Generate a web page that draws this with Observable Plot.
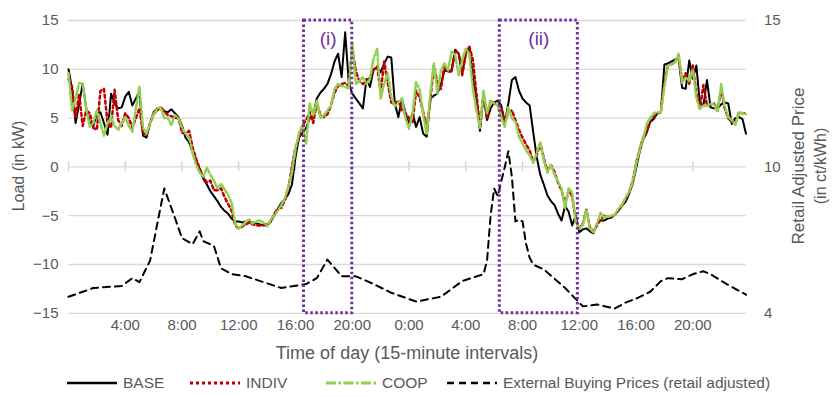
<!DOCTYPE html>
<html><head><meta charset="utf-8">
<script src="https://cdn.jsdelivr.net/npm/d3@7"></script>
<script src="https://cdn.jsdelivr.net/npm/@observablehq/plot@0.6"></script>
<style>
body{margin:0;background:#fff;}
#wrap{position:relative;width:834px;height:397px;font-family:"Liberation Sans",Arial,sans-serif;color:#595959;}
#legend{position:absolute;left:0;top:372px;width:834px;height:22px;}
.li{position:absolute;top:0;height:22px;display:flex;align-items:center;font-size:15.5px;white-space:nowrap;}
</style></head><body><div id="wrap"><div id="legend"></div></div>
<script>
// ---- data (load in kW, 15-minute intervals over 48 h) ----
const base = [10.0, 8.0, 4.5, 6.5, 8.5, 6.0, 4.5, 4.2, 5.5, 5.6, 4.5, 3.3, 7.5, 6.5, 6.0, 6.1, 7.2, 7.7, 6.3, 7.0, 7.7, 3.2, 3.0, 4.5, 5.6, 6.0, 6.1, 5.7,
 5.6, 5.9, 5.5, 5.1, 4.2, 3.0, 2.5, 1.5, 0.6, -0.2, -1.2, -1.8, -2.5, -3.0, -3.5, -4.1, -4.5, -4.8, -5.3, -5.6, -5.6, -5.7, -5.6, -5.6, -5.7, -5.8, -5.9, -6.0,
 -6.0, -5.6, -5.0, -4.3, -3.7, -3.3, -2.8, -1.8, 1.0, 3.0, 3.5, 4.0, 5.0, 5.3, 7.0, 7.6, 8.0, 8.5, 9.5, 10.8, 11.6, 9.2, 13.8, 8.7, 7.5, 7.0, 6.5, 6.0,
 9.0, 8.2, 10.0, 10.2, 9.7, 10.6, 11.3, 11.2, 6.5, 5.1, 7.0, 5.5, 4.4, 5.5, 4.1, 5.1, 3.4, 3.1, 7.0, 7.3, 7.5, 8.5, 9.9, 9.8, 9.9, 12.0, 11.6, 9.6,
 11.6, 12.3, 9.2, 7.0, 3.7, 7.5, 4.8, 6.0, 6.6, 6.8, 6.3, 4.5, 6.5, 8.9, 9.2, 7.8, 7.0, 6.6, 6.3, 3.6, 1.0, -0.8, -1.8, -2.9, -3.5, -3.9, -4.8, -5.5,
 -4.0, -4.6, -6.0, -5.0, -6.7, -6.4, -6.3, -6.6, -6.8, -5.8, -5.5, -5.5, -5.3, -5.2, -4.9, -4.5, -4.0, -3.6, -2.8, -1.8, -0.2, 1.5, 2.8, 3.5, 4.6, 4.9, 5.5, 5.6,
 10.5, 10.6, 10.8, 11.0, 11.1, 8.1, 8.0, 10.9, 9.0, 10.4, 6.5, 6.3, 8.9, 6.1, 6.0, 6.0, 6.4, 6.6, 6.5, 4.4, 5.0, 5.1, 4.9, 3.4];
const indiv = [9.0, 8.2, 5.0, 7.5, 4.2, 5.8, 5.5, 4.0, 3.8, 7.8, 8.0, 4.5, 4.0, 7.9, 4.8, 4.2, 5.5, 5.0, 4.0, 5.0, 6.0, 3.5, 3.3, 4.5, 5.4, 5.8, 6.1, 5.7,
 5.3, 5.2, 5.0, 5.0, 3.5, 3.4, 3.7, 2.0, 0.8, -0.2, -1.0, -1.6, -1.4, -2.4, -2.4, -2.2, -3.1, -3.8, -4.5, -6.0, -6.3, -6.1, -5.9, -5.7, -5.9, -6.0, -6.0, -5.9,
 -5.9, -5.6, -4.8, -4.3, -4.2, -3.4, -2.2, 0.0, 2.0, 3.0, 4.3, 4.8, 5.6, 4.5, 6.6, 5.3, 5.1, 5.4, 6.3, 7.6, 8.3, 8.5, 8.6, 8.3, 12.2, 9.8, 8.8, 8.5,
 8.8, 9.2, 9.9, 10.3, 7.7, 10.8, 8.6, 6.6, 6.4, 6.8, 5.8, 5.5, 5.0, 4.6, 7.8, 7.1, 5.6, 4.0, 6.8, 10.4, 8.6, 8.0, 10.4, 9.7, 9.8, 11.9, 11.6, 9.4,
 11.6, 12.3, 11.0, 7.5, 4.0, 7.5, 5.0, 6.8, 6.5, 6.4, 6.0, 4.6, 5.6, 5.8, 4.8, 3.8, 3.0, 2.3, 1.7, 0.5, 1.2, 2.4, 0.9, -0.4, 0.2, -0.5, -1.6, -2.4,
 -3.8, -2.4, -3.0, -5.5, -6.3, -5.8, -4.4, -6.2, -6.6, -6.0, -5.4, -5.0, -5.1, -5.1, -4.9, -4.4, -3.9, -3.3, -2.6, -1.5, 0.3, 1.8, 3.0, 3.6, 4.8, 5.1, 5.5, 5.6,
 8.7, 10.4, 10.5, 10.8, 11.4, 8.7, 9.6, 8.5, 10.4, 7.5, 6.0, 8.4, 6.3, 6.4, 6.5, 5.8, 8.0, 6.0, 5.0, 4.6, 4.4, 5.6, 5.5, 5.5];
const coop = [9.6, 5.8, 7.0, 8.6, 8.5, 6.0, 4.1, 4.5, 5.8, 4.5, 3.2, 4.5, 5.1, 4.2, 3.8, 4.5, 5.1, 4.2, 3.6, 6.0, 8.2, 4.0, 3.4, 4.5, 5.4, 6.0, 6.1, 5.0,
 5.0, 4.3, 5.3, 5.0, 4.0, 3.4, 3.0, 1.4, 0.2, -0.6, -1.0, -0.1, -0.8, -1.4, -2.2, -1.7, -2.3, -2.9, -3.7, -5.8, -6.3, -6.0, -5.6, -5.4, -5.8, -5.6, -5.5, -5.7,
 -6.1, -5.4, -5.0, -4.5, -3.9, -3.2, -2.0, -0.6, 1.8, 3.5, 4.3, 2.4, 6.5, 5.3, 6.8, 5.0, 5.3, 5.8, 6.3, 8.0, 8.5, 8.3, 8.2, 8.0, 12.8, 8.5, 8.8, 9.2,
 8.5, 9.0, 11.1, 12.1, 7.0, 8.5, 9.6, 7.2, 6.2, 6.6, 7.0, 5.0, 3.9, 5.5, 8.7, 7.9, 5.3, 3.3, 7.5, 10.6, 7.5, 9.9, 10.6, 9.9, 11.8, 11.5, 9.4, 11.0,
 12.1, 11.6, 8.0, 5.8, 4.0, 7.8, 5.5, 6.8, 6.5, 6.3, 5.1, 4.1, 6.1, 5.0, 4.6, 3.1, 2.4, 1.7, 1.2, 0.4, 1.4, 2.5, 0.7, -0.6, 0.2, -0.8, -1.5, -2.2,
 -4.2, -2.2, -2.6, -5.6, -6.3, -6.0, -4.4, -6.3, -6.7, -5.8, -4.7, -5.2, -5.1, -5.0, -4.9, -4.3, -3.9, -3.2, -2.6, -1.6, 0.2, 1.7, 2.9, 4.4, 5.0, 5.5, 5.6, 5.6,
 8.2, 10.4, 10.5, 10.7, 11.6, 8.6, 9.2, 8.8, 10.0, 7.0, 6.0, 6.3, 6.2, 6.5, 6.4, 5.6, 8.5, 6.2, 5.1, 4.8, 4.3, 5.6, 5.5, 5.4];
// external buying price (ct/kWh), read at these hours
const priceHours = [0, 1.75, 3.75, 4.5, 5, 5.75, 6.25, 6.75, 7.5, 8, 8.75, 9.25, 9.5, 10.25, 10.75, 11.5, 12.5, 15, 16.75, 17.5, 18.25, 19.25, 20.25, 21.5, 22.75, 24.5, 26.25, 27.75, 29.25, 29.5, 29.75, 30, 30.25, 30.5, 30.75, 31, 31.25, 31.5, 31.75, 32, 32.25, 32.5, 32.75, 33.5, 35, 36.25, 37.25, 38.5, 39.25, 40, 41, 41.75, 42.25, 43.25, 44, 44.75, 45.25, 46.25, 47, 47.75];
const priceValues = [4.62, 4.95, 5.03, 5.32, 5.17, 5.98, 7.34, 8.69, 7.59, 6.82, 6.60, 7.08, 6.71, 6.53, 5.69, 5.47, 5.39, 4.95, 5.10, 5.32, 6.02, 5.39, 5.39, 5.10, 4.77, 4.44, 4.62, 5.21, 5.47, 5.98, 7.67, 8.69, 8.40, 8.95, 9.50, 10.09, 9.13, 7.45, 7.52, 7.45, 6.60, 6.09, 5.83, 5.65, 4.95, 4.26, 4.33, 4.18, 4.40, 4.55, 4.81, 5.21, 5.32, 5.28, 5.47, 5.58, 5.47, 5.14, 4.92, 4.70];
const xTickHours = [4, 8, 12, 16, 20, 24, 28, 32, 36, 40, 44];
const xTickLabels = ["4:00", "8:00", "12:00", "16:00", "20:00", "0:00", "4:00", "8:00", "12:00", "16:00", "20:00"];
const xTickMarks = [0, 4, 8, 12, 16, 20, 24, 28, 32, 36, 40, 44];
const leftTicks = [15, 10, 5, 0, -5, -10, -15];
const rightTickPos = [15, 0, -15];
const rightTickLabels = ["15", "10", "4"];
const priceMin = 4, priceMax = 15;
const boxStart = [16.6, 30.4];
const boxEnd = [20, 35.9];
const boxLabels = ["(i)", "(ii)"];
const boxLabelY = 13.1;
const seriesNames = ["BASE", "INDIV", "COOP", "External Buying Prices (retail adjusted)"];
const seriesColors = ["#000000", "#c00000", "#92d050", "#000000"];
const seriesDash = [null, "3,3", "10,2.5,2.5,2.5", "7,5"];
const seriesWidth = [2, 2.5, 2.5, 2];

// ---- build ----
const toLoad = p => -15 + (p - priceMin) * 30 / (priceMax - priceMin);
const loadRows = [];
[base, indiv, coop].forEach((arr, s) => arr.forEach((v, i) => loadRows.push({s, h: i * 0.25, v})));
const priceRows = priceHours.map((h, i) => ({h, v: toLoad(priceValues[i])}));
const boxes = boxStart.map((b, i) => ({x1: b, x2: boxEnd[i], label: boxLabels[i]}));
const FONT = '"Liberation Sans",Arial,sans-serif';

const marks = [
  Plot.ruleY(leftTicks, {stroke: "#d9d9d9", strokeWidth: 1.3}),
  Plot.ruleX(xTickMarks, {y1: -0.5, y2: 0.5, stroke: "#d0d0d0", strokeWidth: 1.3}),
  Plot.axisY({anchor: "left", ticks: leftTicks, tickSize: 0, tickPadding: 10, label: null, fontSize: 15}),
  Plot.axisY({anchor: "right", ticks: rightTickPos, tickSize: 0, tickPadding: 18, label: null, fontSize: 15,
    tickFormat: d => rightTickLabels[rightTickPos.indexOf(d)]}),
  Plot.axisX({anchor: "bottom", ticks: xTickHours, tickSize: 0, tickPadding: 6, label: null, fontSize: 15,
    tickFormat: d => xTickLabels[xTickHours.indexOf(d)]})
];
[0, 1, 2].forEach(s => {
  marks.push(Plot.line(loadRows.filter(r => r.s === s), {x: "h", y: "v", stroke: seriesColors[s],
    strokeWidth: seriesWidth[s], strokeDasharray: seriesDash[s], strokeLinejoin: "round"}));
});
marks.push(Plot.line(priceRows, {x: "h", y: "v", stroke: seriesColors[3], strokeWidth: seriesWidth[3], strokeDasharray: seriesDash[3]}));
marks.push(Plot.rect(boxes, {x1: "x1", x2: "x2", y1: -15, y2: 15, fill: "none", stroke: "#7030A0", strokeWidth: 3, strokeDasharray: "2.5,2.5"}));
marks.push(Plot.text(boxes, {x: d => (d.x1 + d.x2) / 2, y: boxLabelY, text: "label", fill: "#7030A0", fontSize: 19}));

const chart = Plot.plot({
  width: 834, height: 368,
  marginLeft: 68, marginRight: 88.5, marginTop: 20, marginBottom: 55.2,
  x: {domain: [0, 47.75], axis: null},
  y: {domain: [-15, 15], axis: null},
  style: {fontFamily: FONT, fontSize: "15px", color: "#595959", background: "#fff"},
  marks
});
document.getElementById("wrap").prepend(chart);

// axis titles
const svg = d3.select(chart);
const tStyle = (s, size) => s.attr("fill", "#595959").attr("font-family", FONT).attr("font-size", size).attr("text-anchor", "middle").attr("dominant-baseline", "middle");
svg.append("text").call(tStyle, 16).attr("transform", "translate(20,166) rotate(-90)").text("Load (in kW)");
svg.append("text").call(tStyle, 17).attr("transform", "translate(800,166) rotate(-90)").text("Retail Adjusted Price");
svg.append("text").call(tStyle, 16).attr("transform", "translate(822,166) rotate(-90)").text("(in ct/kWh)");
svg.append("text").call(tStyle, 18).attr("x", 407).attr("y", 354).text("Time of day (15-minute intervals)");

// legend
const legendX = [67, 190, 326, 447];
const legend = d3.select("#legend");
seriesNames.forEach((name, i) => {
  const item = legend.append("div").attr("class", "li").style("left", legendX[i] + "px");
  const s = item.append("svg").attr("width", 50).attr("height", 22).style("margin-right", "6px");
  s.append("line").attr("x1", 0).attr("x2", 50).attr("y1", 11).attr("y2", 11)
    .attr("stroke", seriesColors[i]).attr("stroke-width", seriesWidth[i] + 0.5)
    .attr("stroke-dasharray", seriesDash[i]);
  item.append("span").text(name);
});
</script></body></html>
